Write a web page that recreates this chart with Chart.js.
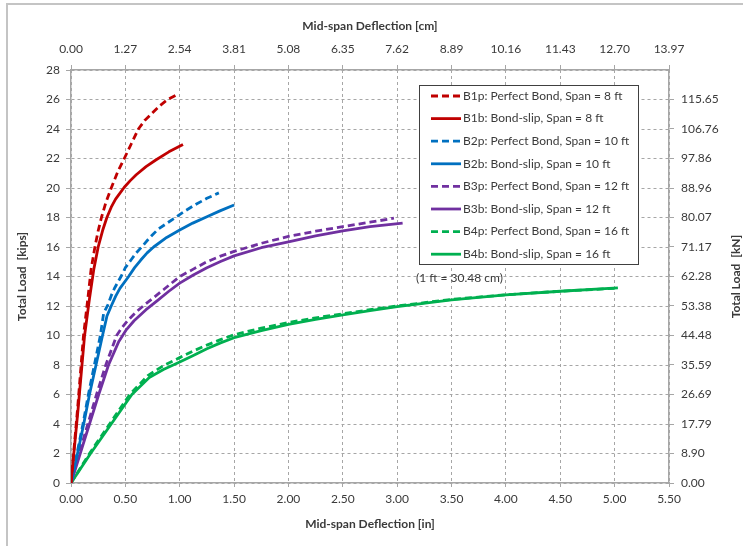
<!DOCTYPE html>
<html><head><meta charset="utf-8">
<script src="https://cdn.jsdelivr.net/npm/chart.js@4"></script>
<style>html,body{margin:0;padding:0;background:#fff}#wrap{width:743px;height:546px;position:relative}</style>
</head><body><div id="wrap"><canvas id="c" width="743" height="546"></canvas></div>
<script>
const seriesLabels = [
  'B1p: Perfect Bond, Span = 8 ft',
  'B1b: Bond-slip, Span = 8 ft',
  'B2p: Perfect Bond, Span = 10 ft',
  'B2b: Bond-slip, Span = 10 ft',
  'B3p: Perfect Bond, Span = 12 ft',
  'B3b: Bond-slip, Span = 12 ft',
  'B4p: Perfect Bond, Span = 16 ft',
  'B4b: Bond-slip, Span = 16 ft'
];
const seriesColors = ['#C00000','#C00000','#0070C0','#0070C0','#7030A0','#7030A0','#00B050','#00B050'];
const seriesDashed = [true,false,true,false,true,false,true,false];

// [mid-span deflection (in), total load (kips)]
const B1P = [[0,0],[0.06,5],[0.115,10],[0.155,12.5],[0.185,14.5],[0.22,16],[0.25,17.1],[0.28,18],[0.32,19],[0.37,20],[0.43,21.1],[0.49,22],[0.555,23],[0.62,24],[0.68,24.6],[0.75,25.1],[0.82,25.6],[0.89,26],[0.97,26.3]];
const B1B = [[0,0],[0.065,5],[0.125,10],[0.17,12.5],[0.21,14.5],[0.25,16],[0.29,17.1],[0.33,18],[0.37,18.7],[0.41,19.25],[0.49,20.05],[0.545,20.5],[0.60,20.9],[0.69,21.45],[0.78,21.9],[0.90,22.45],[1.03,22.95]];
const B2P = [[0,0],[0.055,2],[0.11,4],[0.16,6],[0.215,8],[0.27,10],[0.30,11.5],[0.34,12.1],[0.37,12.7],[0.40,13.2],[0.46,14],[0.50,14.6],[0.55,15.1],[0.60,15.6],[0.65,16],[0.72,16.6],[0.80,17.2],[0.88,17.6],[0.96,18],[1.05,18.45],[1.15,18.9],[1.25,19.3],[1.36,19.67]];
const B2B = [[0,0],[0.06,2],[0.117,4],[0.17,6],[0.23,8],[0.29,10],[0.33,11.3],[0.37,12],[0.41,12.65],[0.45,13.2],[0.53,14],[0.585,14.6],[0.64,15.1],[0.70,15.6],[0.76,16],[0.88,16.65],[1.0,17.15],[1.12,17.62],[1.25,18.05],[1.37,18.45],[1.5,18.85]];
const B3P = [[0,0],[0.075,2],[0.155,4],[0.235,6],[0.32,8],[0.42,10],[0.47,10.55],[0.52,11.0],[0.60,11.6],[0.68,12.1],[0.85,13.1],[1.0,14.0],[1.125,14.5],[1.25,15.0],[1.375,15.38],[1.5,15.7],[1.75,16.25],[2.0,16.72],[2.25,17.07],[2.5,17.38],[2.75,17.68],[2.97,17.95]];
const B3B = [[0,0],[0.085,2],[0.17,4],[0.255,6],[0.345,8],[0.44,9.6],[0.51,10.4],[0.58,11.0],[0.69,11.75],[0.80,12.4],[0.90,13.0],[1.0,13.55],[1.125,14.1],[1.25,14.6],[1.375,15.02],[1.5,15.4],[1.75,15.95],[2.0,16.35],[2.25,16.75],[2.5,17.1],[2.75,17.38],[3.05,17.62]];
const B4P = [[0,0],[0.17,2],[0.355,4],[0.54,6],[0.71,7.3],[0.85,7.95],[1.0,8.5],[1.125,8.95],[1.25,9.35],[1.375,9.72],[1.5,10.05],[1.75,10.5],[2.0,10.88],[2.25,11.2],[2.5,11.47],[2.75,11.75],[3.0,12.0],[3.5,12.45],[4.0,12.76],[4.5,13.0],[5.0,13.2]];
const B4B = [[0,0],[0.18,2],[0.37,4],[0.56,6],[0.72,7.15],[0.85,7.7],[1.0,8.2],[1.125,8.65],[1.25,9.1],[1.375,9.5],[1.5,9.85],[1.75,10.33],[2.0,10.75],[2.25,11.1],[2.5,11.4],[2.75,11.68],[3.0,11.95],[3.5,12.42],[4.0,12.75],[4.5,13.0],[5.03,13.23]];
const seriesData = [B1P,B1B,B2P,B2B,B3P,B3B,B4P,B4B];

const inchTickLabels = ['0.00','0.50','1.00','1.50','2.00','2.50','3.00','3.50','4.00','4.50','5.00','5.50'];
const cmTickLabels = ['0.00','1.27','2.54','3.81','5.08','6.35','7.62','8.89','10.16','11.43','12.70','13.97'];
const kipTickLabels = ['0','2','4','6','8','10','12','14','16','18','20','22','24','26','28'];
const knTickLabels = ['0.00','8.90','17.79','26.69','35.59','44.48','53.38','62.28','71.17','80.07','88.96','97.86','106.76','115.65'];
const KIP_TO_KN = 4.448;

const FONT = 'Lato, "Open Sans", sans-serif';
const TXT = '#3a3a3a';
const GRID = '#a6a6a6';

const datasets = seriesData.map((d,i)=>({
  label: seriesLabels[i],
  data: d.map(p=>({x:p[0],y:p[1]})),
  borderColor: seriesColors[i],
  backgroundColor: seriesColors[i],
  borderWidth: 2.8,
  borderDash: seriesDashed[i] ? [7,4] : [],
  borderJoinStyle: 'round',
  pointRadius: 0,
  fill: false,
  tension: 0,
  xAxisID: 'x', yAxisID: 'y'
}));

const decor = {
  id: 'decor',
  beforeDraw(chart){
    const ctx = chart.ctx;
    ctx.save();
    ctx.fillStyle = '#fff';
    ctx.fillRect(0,0,chart.width,chart.height);
    ctx.strokeStyle = '#c4c4c4';
    ctx.lineWidth = 2;
    ctx.beginPath();
    ctx.moveTo(7,chart.height); ctx.lineTo(7,4); ctx.lineTo(chart.width,4);
    ctx.stroke();
    ctx.restore();
  },
  afterDatasetsDraw(chart){
    const ctx = chart.ctx;
    const a = chart.chartArea;
    ctx.save();
    ctx.fillStyle = TXT;
    ctx.font = 'bold 12px ' + FONT;
    ctx.textAlign = 'center';
    ctx.textBaseline = 'middle';
    const cx = (a.left + a.right)/2, cy = (a.top + a.bottom)/2;
    ctx.fillText('Mid-span Deflection [cm]', cx, 26);
    ctx.fillText('Mid-span Deflection [in]', cx, 524);
    ctx.save(); ctx.translate(22, cy); ctx.rotate(-Math.PI/2); ctx.fillText('Total Load  [kips]', 0, 0); ctx.restore();
    ctx.save(); ctx.translate(736, cy); ctx.rotate(-Math.PI/2); ctx.fillText('Total Load  [kN]', 0, 0); ctx.restore();

    const bx = 419.5, by = 85.5, bw = 219, bh = 179;
    ctx.fillStyle = '#fff';
    ctx.fillRect(bx, by, bw, bh);
    ctx.strokeStyle = '#404040';
    ctx.lineWidth = 1;
    ctx.strokeRect(bx, by, bw, bh);
    ctx.font = '12px ' + FONT;
    ctx.textAlign = 'left';
    for (let i = 0; i < seriesLabels.length; i++) {
      const y = 96 + i*22.6;
      ctx.strokeStyle = seriesColors[i];
      ctx.lineWidth = 2.8;
      ctx.setLineDash(seriesDashed[i] ? [7,4] : []);
      ctx.beginPath(); ctx.moveTo(431, y); ctx.lineTo(461, y); ctx.stroke();
      ctx.setLineDash([]);
      ctx.fillStyle = TXT;
      ctx.fillText(seriesLabels[i], 463, y);
    }
    ctx.fillText('(1 ft = 30.48 cm)', 416, 278);
    ctx.restore();
  }
};

const tickFont = {family: FONT, size: 12};

new Chart(document.getElementById('c'), {
  type: 'line',
  data: {datasets},
  options: {
    responsive: false,
    devicePixelRatio: 1,
    animation: false,
    layout: {padding: 0},
    plugins: {legend: {display: false}, tooltip: {enabled: false}},
    scales: {
      x: {
        type: 'linear', position: 'bottom', min: 0, max: 5.5,
        afterBuildTicks: s => { s.ticks = inchTickLabels.map(v => ({value: parseFloat(v)})); },
        afterFit: s => { s.height = 63; },
        ticks: {autoSkip: false, maxRotation: 0, padding: 5, color: TXT, font: tickFont,
          callback: (v, i) => inchTickLabels[i]},
        grid: {color: GRID, lineWidth: 1, drawTicks: true, tickLength: 4, tickColor: GRID, tickBorderDash: []},
        border: {display: true, color: GRID, width: 1.5, dash: [3,3]}
      },
      x2: {
        type: 'linear', position: 'top', min: 0, max: 13.97,
        afterBuildTicks: s => { s.ticks = cmTickLabels.map(v => ({value: parseFloat(v)})); },
        afterFit: s => { s.height = 70; },
        ticks: {autoSkip: false, maxRotation: 0, padding: 9, color: TXT, font: tickFont,
          callback: (v, i) => cmTickLabels[i]},
        grid: {drawOnChartArea: false, drawTicks: true, tickLength: 5, tickColor: GRID, tickBorderDash: []},
        border: {display: true, color: GRID, width: 1.5}
      },
      y: {
        type: 'linear', position: 'left', min: 0, max: 28,
        afterBuildTicks: s => { s.ticks = kipTickLabels.map(v => ({value: parseFloat(v)})); },
        afterFit: s => { s.width = 71; },
        ticks: {autoSkip: false, padding: 6, color: TXT, font: tickFont,
          callback: (v, i) => kipTickLabels[i]},
        grid: {color: GRID, lineWidth: 1, drawTicks: true, tickLength: 5, tickColor: GRID, tickBorderDash: []},
        border: {display: true, color: GRID, width: 1.5, dash: [3,3]}
      },
      y2: {
        type: 'linear', position: 'right', min: 0, max: 28 * KIP_TO_KN,
        afterBuildTicks: s => { s.ticks = knTickLabels.map(v => ({value: parseFloat(v)})); },
        afterFit: s => { s.width = 74; },
        ticks: {autoSkip: false, padding: 7, color: TXT, font: tickFont,
          callback: (v, i) => knTickLabels[i]},
        grid: {drawOnChartArea: false, drawTicks: true, tickLength: 5, tickColor: GRID, tickBorderDash: []},
        border: {display: true, color: GRID, width: 1.5}
      }
    }
  },
  plugins: [decor]
});
</script>
</body></html>
